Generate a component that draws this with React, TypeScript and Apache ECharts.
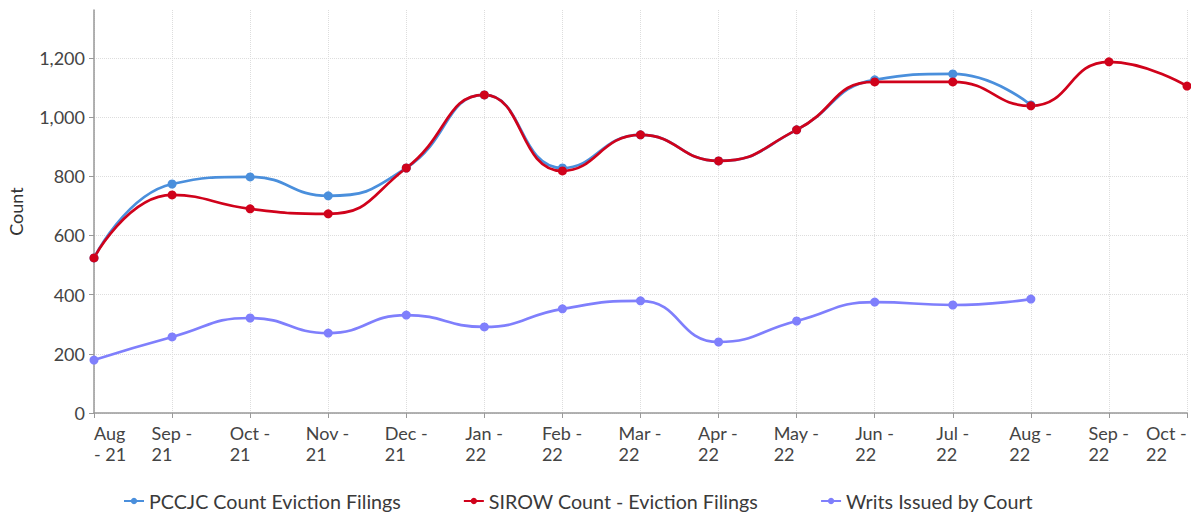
import React, { useEffect, useRef } from "react";
import * as echarts from "echarts";

const categories = [
  "Aug\n- 21", "Sep -\n21", "Oct -\n21", "Nov -\n21", "Dec -\n21",
  "Jan -\n22", "Feb -\n22", "Mar -\n22", "Apr -\n22", "May -\n22",
  "Jun -\n22", "Jul -\n22", "Aug -\n22", "Sep -\n22", "Oct -\n22",
];
const pccjc = [524, 774, 798, 734, 828, 1075, 828, 940, 852, 957, 1126, 1146, 1041, null, null];
const sirow = [524, 737, 690, 673, 828, 1075, 818, 940, 852, 957, 1119, 1119, 1038, 1187, 1105];
const writs = [179, 257, 321, 270, 331, 291, 352, 379, 240, 311, 375, 365, 385, null, null];

const FONT = "Lato, 'Noto Sans', sans-serif";
const LABEL_SIZE = 18;

export default function App() {
  const ref = useRef<HTMLDivElement>(null);
  useEffect(() => {
    if (!ref.current) return;
    const chart = echarts.init(ref.current, null, { renderer: "svg" });

    const cvs = document.createElement("canvas");
    const ctx = cvs.getContext("2d")!;
    ctx.font = `${LABEL_SIZE}px Lato`;
    const rich: Record<string, any> = {};
    categories.forEach((c, i) => {
      const w = Math.max(...c.split("\n").map((s) => ctx.measureText(s).width));
      rich["r" + i] = {
        width: Math.ceil(w),
        align: "left",
        fontSize: LABEL_SIZE,
        fontFamily: FONT,
        color: "#444",
        lineHeight: 21,
      };
    });

    const mk = (name: string, data: (number | null)[], color: string) => ({
      name,
      type: "line",
      data,
      smooth: true,
      symbol: "circle",
      symbolSize: 9,
      showSymbol: true,
      lineStyle: { width: 2.7, color },
      itemStyle: { color },
      connectNulls: false,
    });
    chart.setOption({
      animation: false,
      textStyle: { fontFamily: FONT },
      grid: {
        left: 94, right: 4, top: 10, bottom: 103,
        containLabel: false, outerBoundsMode: "none",
      },
      legend: {
        bottom: 0,
        left: 118,
        itemGap: 62,
        itemWidth: 20,
        itemHeight: 8,
        textStyle: { fontFamily: FONT, fontSize: 19.7, color: "#3a3a3a" },
        data: ["PCCJC Count Eviction Filings", "SIROW Count - Eviction Filings", "Writs Issued by Court"],
      },
      xAxis: {
        type: "category",
        data: categories,
        boundaryGap: false,
        axisLine: { lineStyle: { color: "#999", width: 1.5 } },
        axisTick: { show: true, length: 5, alignWithLabel: true, lineStyle: { color: "#999" } },
        axisLabel: {
          interval: 0,
          fontSize: LABEL_SIZE,
          color: "#444",
          fontFamily: FONT,
          margin: 9,
          lineHeight: 21,
          alignMinLabel: "left",
          alignMaxLabel: "right",
          formatter: (v: string, i: number) =>
            v.split("\n").map((s) => `{r${i}|${s}}`).join("\n"),
          rich,
        },
        splitLine: { show: true, lineStyle: { color: "#ddd", type: "dotted" } },
      },
      yAxis: {
        type: "value",
        min: 0,
        max: 1362,
        interval: 200,
        name: "Count",
        nameLocation: "middle",
        nameGap: 69,
        nameTextStyle: { fontSize: 18, color: "#333", fontFamily: FONT },
        axisLine: { show: true, lineStyle: { color: "#999", width: 1.5 } },
        axisTick: { show: true, length: 5, lineStyle: { color: "#999" } },
        axisLabel: {
          fontSize: LABEL_SIZE,
          color: "#444",
          fontFamily: FONT,
          margin: 9,
          showMaxLabel: false,
          formatter: (v: number) => v.toLocaleString("en-US"),
        },
        splitLine: {
          show: true,
          lineStyle: {
            color: ["#ddd", "#ddd", "#ddd", "#ddd", "#ddd", "#ddd", "#ddd", "rgba(0,0,0,0)"],
            type: "dotted",
          },
        },
      },
      series: [
        mk("PCCJC Count Eviction Filings", pccjc, "#4a8fdc"),
        mk("SIROW Count - Eviction Filings", sirow, "#d0021b"),
        mk("Writs Issued by Court", writs, "#7f7ffc"),
      ],
    });
    return () => chart.dispose();
  }, []);
  return (
    <div
      ref={ref}
      style={{ position: "fixed", left: 0, top: 0, width: 1191, height: 516, background: "#fff" }}
    />
  );
}
